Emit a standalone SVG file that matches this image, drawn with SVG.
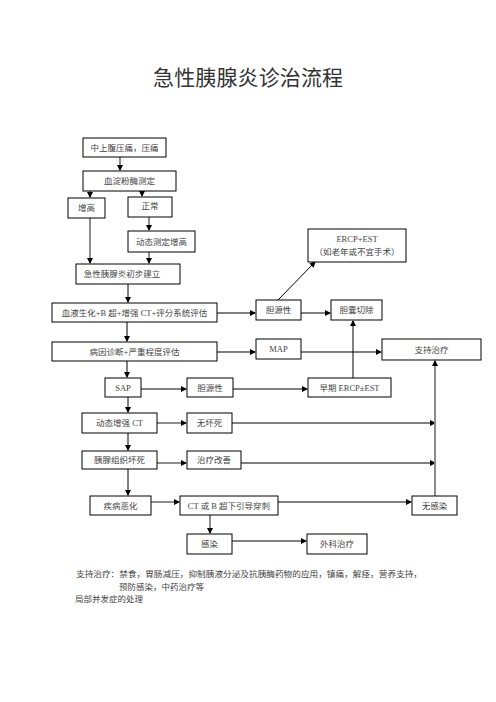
<svg xmlns="http://www.w3.org/2000/svg" width="496" height="702" viewBox="0 0 496 702">
<style>
.b{fill:#fff;stroke:#000;stroke-width:1}
.t{font-family:"Liberation Serif","Noto Sans CJK SC",serif;font-size:8.5px;fill:#444;text-anchor:middle;dominant-baseline:central}
.k{fill:none;stroke:#000;stroke-width:1}
.g{fill:none;stroke:#808080;stroke-width:1.8}
.n{font-family:"Liberation Serif","Noto Sans CJK SC",serif;font-size:8.5px;fill:#444}
</style>
<defs>
<marker id="a" markerUnits="userSpaceOnUse" markerWidth="6" markerHeight="6" refX="5" refY="3" orient="auto"><path d="M0,0 L6,3 L0,6 Z" fill="#000"/></marker>
</defs>
<rect width="496" height="702" fill="#fff"/>
<text x="248" y="76" font-family="'Noto Sans CJK SC','Noto Sans',sans-serif" font-size="21" fill="#333" text-anchor="middle" dominant-baseline="central" textLength="190" lengthAdjust="spacing">急性胰腺炎诊治流程</text>
<g id="connectors">
<path class="g" d="M120,157 V170" marker-end="url(#a)"/>
<path class="g" d="M90,191 V197" marker-end="url(#a)"/>
<path class="g" d="M142,191 V196" marker-end="url(#a)"/>
<path class="g" d="M149,217 V230" marker-end="url(#a)"/>
<path class="g" d="M90,218 V263" marker-end="url(#a)"/>
<path class="g" d="M149,252 V263" marker-end="url(#a)"/>
<path class="k" d="M128,284 V302" marker-end="url(#a)"/>
<path class="k" d="M217,313 H255" marker-end="url(#a)"/>
<path class="k" d="M278,300 L315,262" marker-end="url(#a)"/>
<path class="k" d="M301,313 H330" marker-end="url(#a)"/>
<path class="k" d="M127,322 V341" marker-end="url(#a)"/>
<path class="k" d="M217,352 H255" marker-end="url(#a)"/>
<path class="k" d="M301,352 H381" marker-end="url(#a)"/>
<path class="k" d="M127,361 V377" marker-end="url(#a)"/>
<path class="k" d="M141,389 H186" marker-end="url(#a)"/>
<path class="k" d="M233,389 H307" marker-end="url(#a)"/>
<path class="k" d="M353,378 V321" marker-end="url(#a)"/>
<path class="k" d="M128,397 V412" marker-end="url(#a)"/>
<path class="g" d="M157,423 H186" marker-end="url(#a)"/>
<path class="g" d="M232,423 H435" marker-end="url(#a)"/>
<path class="k" d="M128,433 V450" marker-end="url(#a)"/>
<path class="g" d="M157,463 H186" marker-end="url(#a)"/>
<path class="g" d="M241,463 H435" marker-end="url(#a)"/>
<path class="k" d="M128,469 V495" marker-end="url(#a)"/>
<path class="g" d="M151,502 H179" marker-end="url(#a)"/>
<path class="g" d="M278,502 H411" marker-end="url(#a)"/>
<path class="g" d="M435,496 V361" marker-end="url(#a)"/>
<path class="g" d="M210,515 V533" marker-end="url(#a)"/>
<path class="g" d="M232,541 H306" marker-end="url(#a)"/>
</g>
<g id="n1"><rect class="b" x="83" y="138" width="83" height="19"/><text class="t" x="124.5" y="147.5">中上腹压痛，压痛</text></g>
<g id="n2"><rect class="b" x="83" y="171" width="93" height="20"/><text class="t" x="129.5" y="181">血淀粉酶测定</text></g>
<g id="n3"><rect class="b" x="68" y="198" width="37" height="20"/><text class="t" x="86.5" y="208">增高</text></g>
<g id="n4"><rect class="b" x="128" y="197" width="44" height="20"/><text class="t" x="150" y="206">正常</text></g>
<g id="n5"><rect class="b" x="128" y="231" width="67" height="21"/><text class="t" x="161.5" y="241.5">动态测定增高</text></g>
<g id="n6"><rect class="b" x="76" y="264" width="104" height="20"/><text class="t" x="122" y="274">急性胰腺炎初步建立</text></g>
<g id="n7"><rect class="b" x="52" y="303" width="165" height="19"/><text class="t" x="134.5" y="312.5">血液生化+B 超+增强 CT+评分系统评估</text></g>
<g id="n8"><rect class="b" x="256" y="300" width="45" height="20"/><text class="t" x="278.5" y="310">胆源性</text></g>
<g id="n9"><rect class="b" x="308" y="229" width="98" height="33"/><text class="t" x="357" y="239">ERCP+EST</text><text class="t" x="357" y="252">（如老年或不宜手术）</text></g>
<g id="n10"><rect class="b" x="331" y="300" width="51" height="20"/><text class="t" x="356.5" y="310">胆囊切除</text></g>
<g id="n11"><rect class="b" x="52" y="342" width="165" height="19"/><text class="t" x="134.5" y="351.5">病因诊断+严重程度评估</text></g>
<g id="n12"><rect class="b" x="256" y="339" width="45" height="20"/><text class="t" x="278.5" y="349">MAP</text></g>
<g id="n13"><rect class="b" x="382" y="339" width="99" height="21"/><text class="t" x="431.5" y="349.5">支持治疗</text></g>
<g id="n14"><rect class="b" x="105" y="378" width="36" height="19"/><text class="t" x="123" y="387.5">SAP</text></g>
<g id="n15"><rect class="b" x="187" y="378" width="46" height="19"/><text class="t" x="210" y="387.5">胆源性</text></g>
<g id="n16"><rect class="b" x="308" y="378" width="83" height="19"/><text class="t" x="349.5" y="387.5">早期 ERCP±EST</text></g>
<g id="n17"><rect class="b" x="82" y="413" width="75" height="20"/><text class="t" x="119.5" y="423">动态增强 CT</text></g>
<g id="n18"><rect class="b" x="187" y="413" width="45" height="20"/><text class="t" x="209.5" y="423">无坏死</text></g>
<g id="n19"><rect class="b" x="82" y="451" width="75" height="18"/><text class="t" x="119.5" y="460">胰腺组织坏死</text></g>
<g id="n20"><rect class="b" x="187" y="451" width="54" height="18"/><text class="t" x="214" y="460">治疗改善</text></g>
<g id="n21"><rect class="b" x="90" y="496" width="61" height="19"/><text class="t" x="120.5" y="505.5">疾病恶化</text></g>
<g id="n22"><rect class="b" x="180" y="496" width="98" height="19"/><text class="t" x="229" y="505.5">CT 或 B 超下引导穿刺</text></g>
<g id="n23"><rect class="b" x="412" y="496" width="45" height="19"/><text class="t" x="434.5" y="505.5">无感染</text></g>
<g id="n24"><rect class="b" x="187" y="534" width="45" height="20"/><text class="t" x="209.5" y="544">感染</text></g>
<g id="n25"><rect class="b" x="307" y="534" width="60" height="20"/><text class="t" x="337" y="544">外科治疗</text></g>
<g id="notes">
<text class="n" x="76" y="577" textLength="346" lengthAdjust="spacingAndGlyphs">支持治疗：禁食，胃肠减压，抑制胰液分泌及抗胰酶药物的应用，镇痛，解痉，营养支持，</text>
<text class="n" x="119" y="590">预防感染，中药治疗等</text>
<text class="n" x="75" y="602">局部并发症的处理</text>
</g>
</svg>
